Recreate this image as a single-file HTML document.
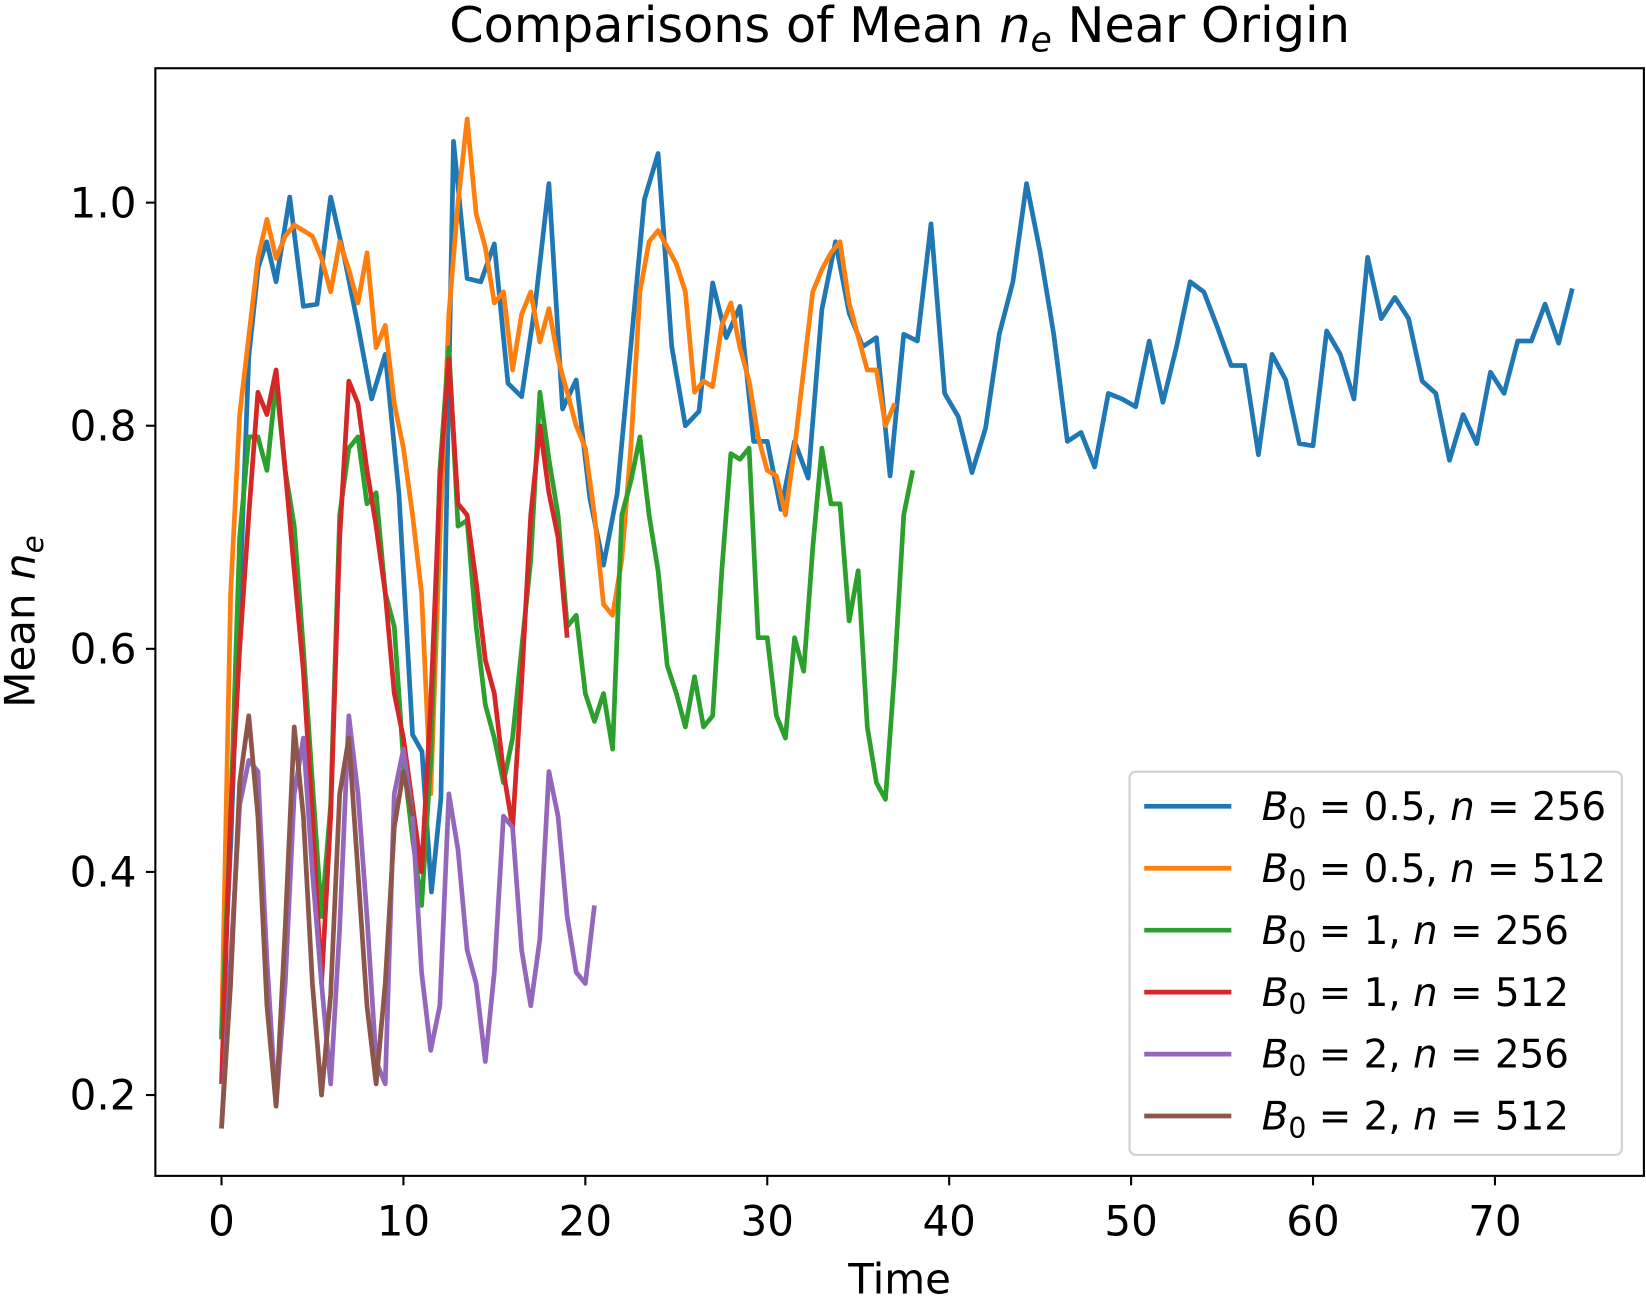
<!DOCTYPE html>
<html><head><meta charset="utf-8"><style>
html,body{margin:0;padding:0;background:#fff;}
svg{display:block;font-family:"DejaVu Sans","Liberation Sans",sans-serif;}
</style></head><body>
<svg id="chart" width="1646" height="1305" viewBox="0 0 1568 1243" preserveAspectRatio="none" xmlns="http://www.w3.org/2000/svg">
<rect width="1568" height="1243" fill="#fff"/>
<text x="857" y="40" font-size="47" text-anchor="middle">Comparisons of Mean <tspan font-style="italic">n</tspan><tspan font-style="italic" font-size="33" dy="9">e</tspan><tspan dy="-9"> Near Origin</tspan></text>
<g id="series"></g>
<rect x="148" y="65" width="1418" height="1055" fill="none" stroke="#000" stroke-width="2"/>
<g id="xticks"></g><g id="yticks"></g>
<text x="857" y="1232" font-size="40" text-anchor="middle">Time</text>
<text transform="translate(33,592) rotate(-90)" font-size="40" text-anchor="middle">Mean <tspan font-style="italic">n</tspan><tspan font-style="italic" font-size="28" dy="8">e</tspan></text>
<g id="legend"></g>
</svg>
<script>
const xTicks=[0,10,20,30,40,50,60,70];
const yTicks=[0.2,0.4,0.6,0.8,1.0];
const names=["B0-0.5-n256","B0-0.5-n512","B0-1-n256","B0-1-n512","B0-2-n256","B0-2-n512"];
const legendB=["0.5","0.5","1","1","2","2"];
const legendN=["256","512","256","512","256","512"];
const colors=["#1f77b4","#ff7f0e","#2ca02c","#d62728","#9467bd","#8c564b"];
const steps=[0.75,0.5,0.5,0.5,0.5,0.5];
const blueTimesHead=[0,0.52,0.98,1.5,2.02,2.48,3.0,3.75,4.5,5.25,6.0,6.75,7.5,8.25,9.0,9.75,10.5,11.02,11.54,12.06,12.75];
const blue=[0.255,0.429,0.636,0.862,0.942,0.965,0.929,1.005,0.907,0.909,1.005,0.951,0.890,0.824,0.864,0.739,0.523,0.508,0.382,0.466,1.055,0.932,0.929,0.963,0.838,0.826,0.909,1.017,0.815,0.841,0.735,0.675,0.739,0.871,1.003,1.044,0.871,0.800,0.813,0.928,0.879,0.907,0.786,0.786,0.725,0.786,0.753,0.904,0.965,0.901,0.871,0.879,0.755,0.882,0.876,0.981,0.829,0.808,0.758,0.798,0.882,0.929,1.017,0.956,0.882,0.786,0.794,0.763,0.829,0.824,0.817,0.876,0.821,0.871,0.929,0.920,0.888,0.854,0.854,0.774,0.864,0.841,0.784,0.782,0.885,0.864,0.824,0.951,0.896,0.915,0.896,0.840,0.829,0.769,0.810,0.784,0.848,0.829,0.876,0.876,0.909,0.874,0.923];
const orange=[0.25,0.65,0.81,0.88,0.95,0.985,0.95,0.97,0.98,0.975,0.97,0.95,0.92,0.965,0.94,0.91,0.955,0.87,0.89,0.82,0.78,0.72,0.65,0.47,0.7,0.9,1.0,1.075,0.99,0.96,0.91,0.92,0.85,0.9,0.92,0.875,0.905,0.86,0.83,0.80,0.78,0.72,0.64,0.63,0.68,0.78,0.92,0.965,0.975,0.96,0.945,0.92,0.83,0.84,0.835,0.89,0.91,0.87,0.84,0.79,0.76,0.755,0.72,0.78,0.85,0.92,0.94,0.955,0.965,0.91,0.88,0.85,0.85,0.8,0.82];
const green=[0.25,0.45,0.7,0.79,0.79,0.76,0.84,0.76,0.71,0.6,0.48,0.36,0.46,0.72,0.78,0.79,0.73,0.74,0.65,0.62,0.5,0.43,0.37,0.5,0.76,0.87,0.71,0.715,0.62,0.55,0.52,0.48,0.52,0.6,0.68,0.83,0.77,0.72,0.62,0.63,0.56,0.535,0.56,0.51,0.72,0.75,0.79,0.72,0.67,0.585,0.56,0.53,0.575,0.53,0.54,0.67,0.775,0.77,0.78,0.61,0.61,0.54,0.52,0.61,0.58,0.69,0.78,0.73,0.73,0.625,0.67,0.53,0.48,0.465,0.58,0.72,0.76];
const red=[0.21,0.45,0.6,0.72,0.83,0.81,0.85,0.76,0.67,0.58,0.45,0.3,0.45,0.7,0.84,0.82,0.76,0.71,0.65,0.56,0.52,0.46,0.4,0.55,0.75,0.86,0.73,0.72,0.66,0.59,0.56,0.49,0.44,0.57,0.72,0.8,0.74,0.7,0.61];
const purple=[0.17,0.32,0.46,0.5,0.49,0.32,0.19,0.3,0.47,0.52,0.4,0.3,0.21,0.35,0.54,0.47,0.36,0.23,0.21,0.47,0.51,0.45,0.31,0.24,0.28,0.47,0.42,0.33,0.3,0.23,0.31,0.45,0.44,0.33,0.28,0.34,0.49,0.45,0.36,0.31,0.3,0.37];
const brown=[0.17,0.3,0.48,0.54,0.45,0.28,0.19,0.35,0.53,0.45,0.3,0.2,0.29,0.47,0.52,0.4,0.28,0.21,0.3,0.44,0.49,0.45];
const allSeries=[blue,orange,green,red,purple,brown];
const NS="http://www.w3.org/2000/svg";
const X=t=>211+t*17.33;
const Y=v=>193+(1-v)*1062.5;
function timeAt(s,i){
  if(s===0){
    if(i<blueTimesHead.length) return blueTimesHead[i];
    return blueTimesHead[blueTimesHead.length-1]+(i-blueTimesHead.length+1)*steps[0];
  }
  return i*steps[s];
}
const sg=document.getElementById('series');
for(let s=0;s<allSeries.length;s++){
  const vals=allSeries[s];
  const pts=vals.map((v,i)=>X(timeAt(s,i)).toFixed(1)+","+Y(v).toFixed(1)).join(" ");
  const pl=document.createElementNS(NS,'polyline');
  
  
  pl.setAttribute('points',pts);
  pl.setAttribute('fill','none');
  pl.setAttribute('stroke',colors[s]);
  pl.setAttribute('stroke-width','4.5');
  pl.setAttribute('stroke-linejoin','round');
  sg.appendChild(pl);
}
const xg=document.getElementById('xticks');
xTicks.forEach(t=>{
  const l=document.createElementNS(NS,'line');
  
  
  l.setAttribute('x1',X(t));l.setAttribute('x2',X(t));l.setAttribute('y1',1120);l.setAttribute('y2',1129);
  l.setAttribute('stroke','#000');l.setAttribute('stroke-width','2');xg.appendChild(l);
  const tx=document.createElementNS(NS,'text');
  
  
  tx.setAttribute('x',X(t));tx.setAttribute('y',1177);tx.setAttribute('font-size','40');tx.setAttribute('text-anchor','middle');
  tx.textContent=t;xg.appendChild(tx);
});
const yg=document.getElementById('yticks');
yTicks.forEach(v=>{
  const l=document.createElementNS(NS,'line');
  
  
  l.setAttribute('x1',139);l.setAttribute('x2',148);l.setAttribute('y1',Y(v));l.setAttribute('y2',Y(v));
  l.setAttribute('stroke','#000');l.setAttribute('stroke-width','2');yg.appendChild(l);
  const tx=document.createElementNS(NS,'text');
  
  
  tx.setAttribute('x',130);tx.setAttribute('y',Y(v)+14);tx.setAttribute('font-size','40');tx.setAttribute('text-anchor','end');
  tx.textContent=v.toFixed(1);yg.appendChild(tx);
});
const lg=document.getElementById('legend');
const box=document.createElementNS(NS,'rect');


box.setAttribute('x',1076);box.setAttribute('y',735);box.setAttribute('width',469);box.setAttribute('height',365);box.setAttribute('rx',6);
box.setAttribute('fill','#fff');box.setAttribute('fill-opacity','0.8');box.setAttribute('stroke','#d0d0d0');box.setAttribute('stroke-width','2');
lg.appendChild(box);
for(let s=0;s<6;s++){
  const y=768+s*59;
  const l=document.createElementNS(NS,'line');
  
  
  l.setAttribute('x1',1090);l.setAttribute('x2',1173);l.setAttribute('y1',y);l.setAttribute('y2',y);
  l.setAttribute('stroke',colors[s]);l.setAttribute('stroke-width','4.5');lg.appendChild(l);
  const tx=document.createElementNS(NS,'text');
  
  
  tx.setAttribute('x',1202);tx.setAttribute('y',y+13);tx.setAttribute('font-size','37');
  tx.innerHTML='<tspan font-style="italic">B</tspan><tspan font-size="27" dy="8">0</tspan><tspan dy="-8"> = '+legendB[s]+', </tspan><tspan font-style="italic">n</tspan><tspan> = '+legendN[s]+'</tspan>';
  lg.appendChild(tx);
}
</script>
</body></html>
